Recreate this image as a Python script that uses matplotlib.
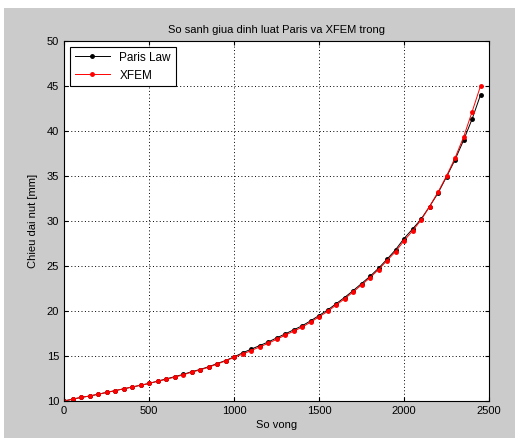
import numpy as np
import matplotlib
matplotlib.use('Agg')
import matplotlib.pyplot as plt
from matplotlib.patches import Rectangle

# so vong (chu ky)
so_vong = [0, 50, 100, 150, 200, 250, 300, 350, 400, 450,
           500, 550, 600, 650, 700, 750, 800, 850, 900, 950,
           1000, 1050, 1100, 1150, 1200, 1250, 1300, 1350, 1400, 1450,
           1500, 1550, 1600, 1650, 1700, 1750, 1800, 1850, 1900, 1950,
           2000, 2050, 2100, 2150, 2200, 2250, 2300, 2350, 2400, 2450]

# chieu dai nut - XFEM
xfem = [10.0, 10.2, 10.4, 10.55, 10.75, 10.95, 11.15, 11.35, 11.55, 11.75,
        11.95, 12.2, 12.4, 12.65, 12.9, 13.2, 13.45, 13.75, 14.1, 14.45,
        14.85, 15.2, 15.6, 16.0, 16.4, 16.85, 17.3, 17.75, 18.2, 18.75,
        19.35, 19.95, 20.65, 21.35, 22.1, 22.9, 23.7, 24.6, 25.6, 26.6,
        27.8, 28.9, 30.1, 31.6, 33.2, 35.0, 37.0, 39.3, 42.1, 45.0]

# chieu dai nut - Paris Law
paris = [10.0, 10.2, 10.4, 10.55, 10.75, 10.95, 11.15, 11.35, 11.55, 11.75,
         11.95, 12.2, 12.45, 12.7, 12.95, 13.25, 13.5, 13.8, 14.15, 14.5,
         14.9, 15.35, 15.75, 16.15, 16.55, 17.0, 17.45, 17.9, 18.35, 18.9,
         19.5, 20.1, 20.8, 21.5, 22.25, 23.05, 23.85, 24.75, 25.75, 26.8,
         28.05, 29.1, 30.2, 31.6, 33.1, 34.9, 36.8, 38.95, 41.3, 44.0]

plt.rcParams['font.family'] = ['Liberation Sans', 'DejaVu Sans']
plt.rcParams['font.size'] = 8

fig = plt.figure(figsize=(5.23, 4.38), dpi=100, facecolor='white')
# nen xam kieu MATLAB
fig.patches.append(Rectangle((4/523, 0), 511/523, 430/438,
                             transform=fig.transFigure, facecolor='#cbcbcb',
                             edgecolor='none', zorder=-1))
ax = fig.add_axes([64/523, 1 - 401/438, 425/523, 360/438])

ax.plot(so_vong, paris, color='black', linewidth=0.7, marker='.',
        markersize=5, label='Paris Law')
ax.plot(so_vong, xfem, color='red', linewidth=0.7, marker='.',
        markersize=5, label='XFEM')

ax.axis([0, 2500, 10, 50])
ax.set_xticks(np.arange(0, 2501, 500))
ax.set_yticks(np.arange(10, 51, 5))
ax.grid(True, color='black', linestyle=(0, (1, 2.5)), linewidth=0.7)
ax.tick_params(direction='in', top=True, right=True, length=3, labelsize=8)
for s in ax.spines.values():
    s.set_linewidth(0.8)

ax.set_title('So sanh giua dinh luat Paris va XFEM trong', fontsize=8, pad=6)
ax.set_xlabel('So vong', fontsize=8, labelpad=3)
ax.set_ylabel('Chieu dai nut [mm]', fontsize=8, labelpad=6)

leg = ax.legend(loc='upper left', fontsize=8.5, fancybox=False,
                edgecolor='black', framealpha=1, handlelength=3,
                borderaxespad=0.5)
leg.get_frame().set_linewidth(0.8)

plt.savefig('out.png', dpi=100, facecolor=fig.get_facecolor())
